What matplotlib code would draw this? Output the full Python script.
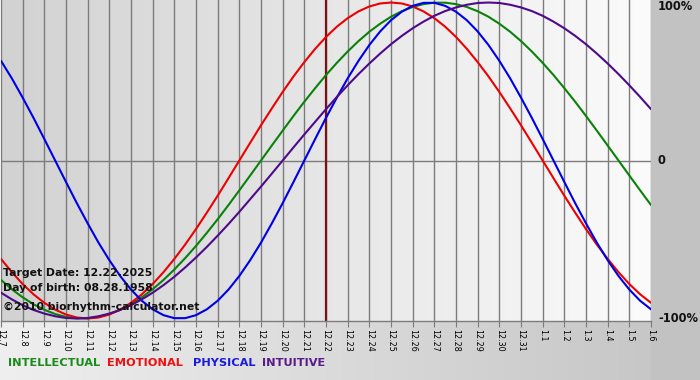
import numpy as np
import matplotlib
matplotlib.use("Agg")
import matplotlib.pyplot as plt
from matplotlib.colors import LinearSegmentedColormap

# ---- data: values every half day, 12.7 .. 1.6 ----
day_labels = ["12.7", "12.8", "12.9", "12.10", "12.11", "12.12", "12.13", "12.14",
              "12.15", "12.16", "12.17", "12.18", "12.19", "12.20", "12.21", "12.22",
              "12.23", "12.24", "12.25", "12.26", "12.27", "12.28", "12.29", "12.30",
              "12.31", "1.1", "1.2", "1.3", "1.4", "1.5", "1.6"]

intellectual = [-0.756, -0.815, -0.866, -0.910, -0.945, -0.972, -0.990, -0.999, -0.999,
                -0.990, -0.972, -0.945, -0.910, -0.866, -0.815, -0.756, -0.690, -0.618,
                -0.541, -0.458, -0.372, -0.282, -0.189, -0.095, 0.000,
                0.095, 0.189, 0.282, 0.372, 0.458, 0.541, 0.618, 0.690, 0.756, 0.815,
                0.866, 0.910, 0.945, 0.972, 0.990, 0.999, 0.999, 0.990, 0.972, 0.945,
                0.910, 0.866, 0.815, 0.756, 0.690, 0.618, 0.541, 0.458, 0.372, 0.282,
                0.189, 0.095, 0.000,
                -0.095, -0.189, -0.282]

emotional = [-0.623, -0.707, -0.782, -0.847, -0.901, -0.944, -0.975, -0.994, -1.000,
             -0.994, -0.975, -0.944, -0.901, -0.847, -0.782, -0.707, -0.623, -0.532,
             -0.434, -0.330, -0.223, -0.112, 0.000,
             0.112, 0.223, 0.330, 0.434, 0.532, 0.623, 0.707, 0.782, 0.847, 0.901,
             0.944, 0.975, 0.994, 1.000, 0.994, 0.975, 0.944, 0.901, 0.847, 0.782,
             0.707, 0.623, 0.532, 0.434, 0.330, 0.223, 0.112, 0.000,
             -0.112, -0.223, -0.330, -0.434, -0.532, -0.623, -0.707, -0.782, -0.847,
             -0.901]

physical = [0.631, 0.520, 0.398, 0.270, 0.136, 0.000,
            -0.136, -0.270, -0.398, -0.520, -0.631, -0.731, -0.817, -0.888, -0.942,
            -0.979, -0.998, -0.998, -0.979, -0.942, -0.888, -0.817, -0.731, -0.631,
            -0.520, -0.398, -0.270, -0.136, 0.000,
            0.136, 0.270, 0.398, 0.520, 0.631, 0.731, 0.817, 0.888, 0.942, 0.979,
            0.998, 0.998, 0.979, 0.942, 0.888, 0.817, 0.731, 0.631, 0.520, 0.398,
            0.270, 0.136, 0.000,
            -0.136, -0.270, -0.398, -0.520, -0.631, -0.731, -0.817, -0.888, -0.942]

intuitive = [-0.837, -0.879, -0.916, -0.946, -0.969, -0.986, -0.997, -1.000, -0.997,
             -0.986, -0.969, -0.946, -0.916, -0.879, -0.837, -0.789, -0.736, -0.677,
             -0.614, -0.547, -0.476, -0.402, -0.325, -0.245, -0.165, -0.083, 0.000,
             0.083, 0.165, 0.245, 0.325, 0.402, 0.476, 0.547, 0.614, 0.677, 0.736,
             0.789, 0.837, 0.879, 0.916, 0.946, 0.969, 0.986, 0.997, 1.000, 0.997,
             0.986, 0.969, 0.946, 0.916, 0.879, 0.837, 0.789, 0.736, 0.677, 0.614,
             0.547, 0.476, 0.402, 0.325]

target_label = "12.22"
series_names = ["INTELLECTUAL", "EMOTIONAL", "PHYSICAL", "INTUITIVE"]
series_colors = ["#0a820a", "#ee0000", "#0000e6", "#4e0a8a"]
legend_colors = ["#1a8a1a", "#ee1111", "#1a1ae0", "#5a1a8a"]
y_labels = ["100%", "0", "-100%"]
y_values = [1.0, 0.0, -1.0]

W, H = 700, 380
fig = plt.figure(figsize=(W / 100, H / 100), dpi=100)

# figure background gradient
bg = fig.add_axes([0, 0, 1, 1], zorder=-10)
bg.axis("off")
bg_cmap = LinearSegmentedColormap.from_list("bg", ["#efefef", "#c4c4c4"])
bg.imshow(np.linspace(0, 1, 256)[None, :], cmap=bg_cmap, aspect="auto",
          extent=[0, 1, 0, 1])
bg.set_xlim(0, 1)
bg.set_ylim(0, 1)

# right panel
fig.patches.append(plt.Rectangle((651 / W, 0), 49 / W, 1, transform=fig.transFigure,
                                 color="#c2c2c2", zorder=-5))

# plot axes
ax_left, ax_right, ax_top, ax_bottom = 1, 651, 0, 321
ax = fig.add_axes([ax_left / W, 1 - ax_bottom / H, (ax_right - ax_left) / W,
                   (ax_bottom - ax_top) / H])
n_days = len(day_labels)
x_days = np.arange(n_days)
ax.set_xlim(0, n_days - 1)
ax.set_ylim(-1.016, 1.016)

pl_cmap = LinearSegmentedColormap.from_list("pl", ["#d2d2d2", "#fbfbfb"])
ax.imshow(np.linspace(0, 1, 256)[None, :], cmap=pl_cmap, aspect="auto",
          extent=[0, n_days - 1, -1.016, 1.016], zorder=0)

for xi in x_days:
    ax.axvline(xi, color="#7c7c7c", lw=1.0, zorder=1)
ax.axhline(0, color="#7c7c7c", lw=1.0, zorder=1)

ti = day_labels.index(target_label)
ax.axvline(ti, color="#7a1212", lw=1.6, zorder=2)

for vals, col in zip([intellectual, emotional, physical, intuitive], series_colors):
    xs = np.linspace(0, n_days - 1, len(vals))
    ax.plot(xs, vals, color=col, lw=1.5, zorder=3, solid_capstyle="round",
            solid_joinstyle="round")

for s in ["top", "left", "right"]:
    ax.spines[s].set_visible(False)
ax.spines["bottom"].set_color("#7c7c7c")
ax.spines["bottom"].set_linewidth(1.0)
ax.set_yticks([])
ax.set_xticks(x_days)
ax.set_xticklabels(day_labels, rotation=270, fontsize=5.8, va="top", ha="center")
ax.tick_params(axis="x", length=4, width=0.8, color="#7c7c7c", pad=1.5)

# right-hand percentage labels
for lab, yv in zip(y_labels, y_values):
    yp = ax.transData.transform((0, yv))[1]
    ypf = yp / H
    if yv > 0:
        ypf = 1 - 7 / H
    fig.text(658 / W, ypf, lab, fontsize=8.3, fontweight="bold", va="center",
             ha="left", color="#111111")

# info text
info = ["Target Date: 12.22.2025", "Day of birth: 08.28.1958",
        "\u00a92010 biorhythm-calculator.net"]
info_y = [276, 291, 310]
for t, yy in zip(info, info_y):
    fig.text(3 / W, 1 - yy / H, t, fontsize=7.8, fontweight="bold",
             va="baseline", ha="left", color="#111111", zorder=10)

# legend row
leg_x = [8, 107, 193, 262]
for name, col, lx in zip(series_names, legend_colors, leg_x):
    fig.text(lx / W, 1 - 366.5 / H, name, fontsize=8.2, fontweight="bold",
             color=col, va="baseline", ha="left")

fig.savefig("out.png", dpi=100)
